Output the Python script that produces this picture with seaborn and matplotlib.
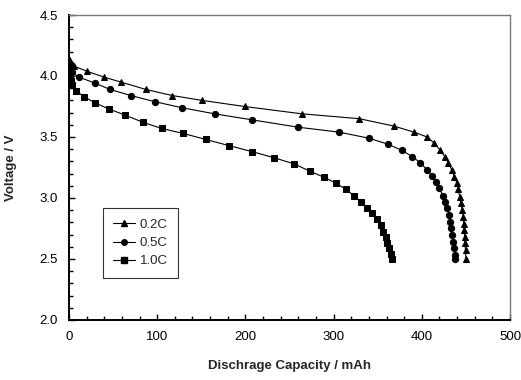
import matplotlib
matplotlib.use("Agg")
import matplotlib.pyplot as plt
from matplotlib.ticker import MultipleLocator
import seaborn as sns
import pandas as pd

series_names = ["0.2C", "0.5C", "1.0C"]

cap_02 = [0, 1, 3, 6, 20, 40, 59, 87, 117, 151, 199, 264, 329, 368, 391, 406, 414, 421,
          426, 430, 434, 437, 440, 441, 443, 444, 446, 447, 447.5, 448, 448.5, 449, 449.5, 450]
volt_02 = [4.14, 4.12, 4.10, 4.08, 4.04, 3.99, 3.95, 3.89, 3.84, 3.80, 3.75, 3.69, 3.65, 3.59,
           3.54, 3.50, 3.45, 3.39, 3.34, 3.29, 3.23, 3.17, 3.12, 3.07, 3.01, 2.96, 2.90, 2.84,
           2.79, 2.74, 2.68, 2.63, 2.57, 2.50]

cap_05 = [0, 1, 3, 11.5, 30, 46.5, 70, 97, 128, 165, 208, 260, 306, 340, 362, 377.5, 389, 398,
          406, 411.5, 416, 419.5, 424, 426, 428.5, 431, 432, 433, 434, 435, 436.5, 437.5, 438]
volt_05 = [4.10, 4.07, 4.03, 3.99, 3.94, 3.89, 3.84, 3.79, 3.74, 3.69, 3.64, 3.58, 3.54, 3.49,
           3.44, 3.39, 3.34, 3.29, 3.23, 3.18, 3.13, 3.08, 3.02, 2.97, 2.92, 2.86, 2.80, 2.75,
           2.70, 2.64, 2.59, 2.53, 2.50]

cap_10 = [0, 1, 2, 3, 8, 17, 29.5, 45, 63.5, 84, 105, 129, 155, 181, 207.5, 232.5, 255, 273,
          289, 303, 314, 323, 331, 338, 343.5, 349, 354, 356, 359, 360.5, 363, 365, 366]
volt_10 = [4.05, 4.00, 3.96, 3.93, 3.88, 3.83, 3.78, 3.73, 3.68, 3.62, 3.57, 3.53, 3.48, 3.43,
           3.38, 3.33, 3.28, 3.22, 3.17, 3.12, 3.07, 3.02, 2.97, 2.92, 2.88, 2.83, 2.78, 2.72,
           2.68, 2.63, 2.59, 2.54, 2.50]

x_ticks = [0, 100, 200, 300, 400, 500]
y_ticks = [2.0, 2.5, 3.0, 3.5, 4.0, 4.5]

frames = []
for name, xs, ys in zip(series_names, [cap_02, cap_05, cap_10], [volt_02, volt_05, volt_10]):
    frames.append(pd.DataFrame({"cap": xs, "volt": ys, "rate": name,
                                "order": range(len(xs))}))
df = pd.concat(frames, ignore_index=True)

sns.set_style("white")
plt.rcParams["font.family"] = ["Liberation Sans", "DejaVu Sans"]

fig = plt.figure(figsize=(5.21, 3.80), dpi=100)
ax = fig.add_axes([0.1324, 0.158, 0.8466, 0.8025])

markers = {"0.2C": "^", "0.5C": "o", "1.0C": "s"}
sns.lineplot(data=df, x="cap", y="volt", hue="rate", style="rate", markers=markers,
             dashes=False, palette=["black"] * 3, sort=False, estimator=None,
             linewidth=0.8, markersize=4.5, markeredgecolor="black", ax=ax, legend=False)

ax.set_xlim(0, 500)
ax.set_ylim(2.0, 4.5)
ax.set_xticks(x_ticks)
ax.set_yticks(y_ticks)
ax.set_xticklabels([str(v) for v in x_ticks])
ax.set_yticklabels([f"{v:.1f}" for v in y_ticks])
ax.xaxis.set_minor_locator(MultipleLocator(20))
ax.yaxis.set_minor_locator(MultipleLocator(0.1))
ax.tick_params(which="both", direction="in", colors="black", labelsize=9.5, pad=8)
ax.tick_params(which="major", length=4, width=1)
ax.tick_params(which="minor", length=3, width=1)
ax.tick_params(axis="x", which="both", bottom=True, top=False)
ax.tick_params(axis="y", which="both", left=True, right=False)

for side in ["left", "bottom"]:
    ax.spines[side].set_color("black")
    ax.spines[side].set_linewidth(1.4)
for side in ["top", "right"]:
    ax.spines[side].set_color("#777777")
    ax.spines[side].set_linewidth(1.0)

ax.set_xlabel("Dischrage Capacity / mAh", fontsize=9.5, fontweight="bold", labelpad=12)
ax.set_ylabel("Voltage / V", fontsize=9.5, fontweight="bold", labelpad=16)

handles = []
for name in series_names:
    h, = ax.plot([], [], color="black", marker=markers[name], markersize=4, linewidth=0.8)
    handles.append(h)
leg = ax.legend(handles, series_names, loc="lower left", bbox_to_anchor=(0.077, 0.138),
                frameon=True, fancybox=False, edgecolor="black", fontsize=9.5,
                handlelength=1.6, handletextpad=0.4, borderpad=0.8, labelspacing=0.45,
                borderaxespad=0)
leg.get_frame().set_linewidth(0.8)

fig.savefig("out.png", dpi=100)
